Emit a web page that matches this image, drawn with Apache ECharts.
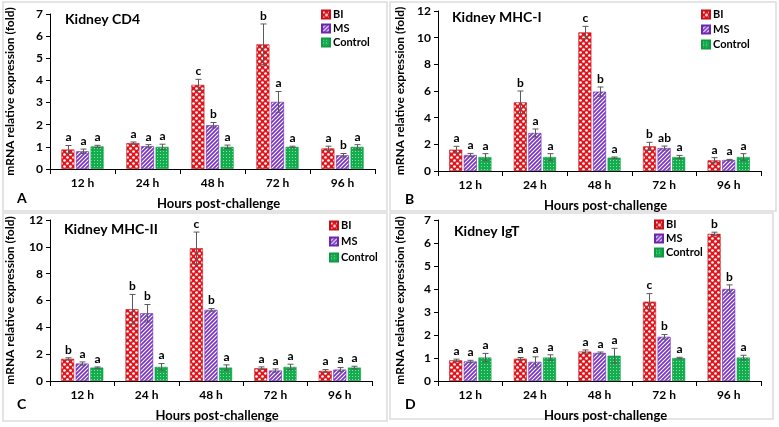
<!DOCTYPE html>
<html><head><meta charset="utf-8">
<script src="https://cdn.jsdelivr.net/npm/echarts@6/dist/echarts.min.js"></script>
<style>html,body{margin:0;padding:0;background:#fff}#c{width:779px;height:427px}</style>
</head><body><div id="c"></div>
<script>
// ---------- data ----------
const categories = ['12 h', '24 h', '48 h', '72 h', '96 h'];
const seriesNames = ['BI', 'MS', 'Control'];

// Panel A: Kidney CD4
const cd4BI = [0.88, 1.17, 3.80, 5.63, 0.93];
const cd4MS = [0.80, 1.03, 1.98, 3.03, 0.62];
const cd4Ctrl = [1.02, 1.00, 1.00, 1.00, 1.00];
const cd4BIErr = [0.18, 0.05, 0.25, 0.92, 0.10];
const cd4MSErr = [0.10, 0.07, 0.12, 0.47, 0.08];
const cd4CtrlErr = [0.05, 0.12, 0.08, 0.03, 0.10];
const cd4BISig = ['a', 'a', 'c', 'b', 'a'];
const cd4MSSig = ['a', 'a', 'b', 'a', 'b'];
const cd4CtrlSig = ['a', 'a', 'a', 'a', 'a'];

// Panel B: Kidney MHC-I
const mhc1BI = [1.60, 5.15, 10.40, 1.85, 0.80];
const mhc1MS = [1.20, 2.85, 5.95, 1.72, 0.82];
const mhc1Ctrl = [1.05, 1.05, 1.00, 1.05, 1.05];
const mhc1BIErr = [0.25, 0.85, 0.45, 0.30, 0.20];
const mhc1MSErr = [0.12, 0.30, 0.35, 0.15, 0.05];
const mhc1CtrlErr = [0.25, 0.25, 0.05, 0.12, 0.25];
const mhc1BISig = ['a', 'b', 'c', 'b', 'a'];
const mhc1MSSig = ['a', 'a', 'b', 'ab', 'a'];
const mhc1CtrlSig = ['a', 'a', 'a', 'a', 'a'];

// Panel C: Kidney MHC-II
const mhc2BI = [1.65, 5.35, 9.90, 0.95, 0.75];
const mhc2MS = [1.30, 5.05, 5.30, 0.78, 0.85];
const mhc2Ctrl = [1.00, 1.05, 1.00, 1.05, 1.00];
const mhc2BIErr = [0.08, 1.10, 1.20, 0.10, 0.10];
const mhc2MSErr = [0.12, 0.65, 0.10, 0.12, 0.15];
const mhc2CtrlErr = [0.05, 0.25, 0.20, 0.20, 0.10];
const mhc2BISig = ['b', 'b', 'c', 'a', 'a'];
const mhc2MSSig = ['a', 'b', 'b', 'a', 'a'];
const mhc2CtrlSig = ['a', 'a', 'a', 'a', 'a'];

// Panel D: Kidney IgT
const igtBI = [0.90, 0.97, 1.28, 3.45, 6.40];
const igtMS = [0.85, 0.83, 1.22, 1.92, 4.00];
const igtCtrl = [1.02, 1.02, 1.10, 1.00, 1.02];
const igtBIErr = [0.05, 0.05, 0.07, 0.35, 0.07];
const igtMSErr = [0.05, 0.22, 0.04, 0.10, 0.18];
const igtCtrlErr = [0.18, 0.12, 0.32, 0.03, 0.10];
const igtBISig = ['a', 'a', 'a', 'c', 'b'];
const igtMSSig = ['a', 'a', 'a', 'b', 'b'];
const igtCtrlSig = ['a', 'a', 'a', 'a', 'a'];

const panelTitles = ['Kidney CD4', 'Kidney MHC-I', 'Kidney MHC-II', 'Kidney IgT'];
const panelLetters = ['A', 'B', 'C', 'D'];
const yMax = [7, 12, 12, 7];
const yInterval = [1, 2, 2, 1];
const yAxisName = 'mRNA relative expression (fold)';
const xAxisName = 'Hours post-challenge';

const panels = [
  {v: [cd4BI, cd4MS, cd4Ctrl], e: [cd4BIErr, cd4MSErr, cd4CtrlErr], s: [cd4BISig, cd4MSSig, cd4CtrlSig]},
  {v: [mhc1BI, mhc1MS, mhc1Ctrl], e: [mhc1BIErr, mhc1MSErr, mhc1CtrlErr], s: [mhc1BISig, mhc1MSSig, mhc1CtrlSig]},
  {v: [mhc2BI, mhc2MS, mhc2Ctrl], e: [mhc2BIErr, mhc2MSErr, mhc2CtrlErr], s: [mhc2BISig, mhc2MSSig, mhc2CtrlSig]},
  {v: [igtBI, igtMS, igtCtrl], e: [igtBIErr, igtMSErr, igtCtrlErr], s: [igtBISig, igtMSSig, igtCtrlSig]}
];

// ---------- patterns ----------
function mkCanvas(w, h, draw) {
  const c = document.createElement('canvas'); c.width = w; c.height = h;
  draw(c.getContext('2d')); return c;
}
const patBI = mkCanvas(6, 6, g => {
  g.fillStyle = '#e2141c'; g.fillRect(0, 0, 6, 6);
  g.fillStyle = '#ffffff';
  [[1.5, 1.5], [4.5, 4.5]].forEach(p => { g.beginPath(); g.arc(p[0], p[1], 1.35, 0, Math.PI * 2); g.fill(); });
});
const patMS = mkCanvas(4, 4, g => {
  g.fillStyle = '#7a34c4'; g.fillRect(0, 0, 4, 4);
  g.strokeStyle = '#ffffff'; g.lineWidth = 1.1;
  g.beginPath(); g.moveTo(-1, 5); g.lineTo(5, -1); g.stroke();
  g.beginPath(); g.moveTo(-1, 1); g.lineTo(1, -1); g.stroke();
  g.beginPath(); g.moveTo(3, 5); g.lineTo(5, 3); g.stroke();
});
const patCtrl = mkCanvas(3, 3, g => {
  g.fillStyle = '#12ad4c'; g.fillRect(0, 0, 3, 3);
  g.fillStyle = 'rgba(255,255,255,0.55)'; g.fillRect(1, 1, 1, 1);
});
const patterns = [patBI, patMS, patCtrl];
const borderCols = ['#c8101a', '#6a28b0', '#0e9a42'];

// ---------- layout ----------
const FONT = 'Lato';
const grids = [
  {left: 50, top: 14, width: 325, height: 155},
  {left: 438, top: 11, width: 323, height: 160},
  {left: 50, top: 220, width: 322, height: 161},
  {left: 438, top: 220, width: 323, height: 161}
];
const legendPos = [{left: 321, top: 9}, {left: 701, top: 9}, {left: 329, top: 220}, {left: 654, top: 219}];
const legendGap = [3, 4, 5, 3];
const titlePos = [{left: 65, top: 12}, {left: 452, top: 10}, {left: 64, top: 222}, {left: 454, top: 224}];
const letterPos = [[22, 199], [410, 200], [22, 405], [410, 405]];
const frames = [[3, 2, 384, 209], [390, 2, 386, 209], [3, 213, 384, 208], [390, 213, 383, 206]];

const BW = 13, GAP = 1.6;

const option = {
  animation: false,
  backgroundColor: '#ffffff',
  textStyle: {fontFamily: FONT},
  grid: grids,
  title: panelTitles.map((t, i) => ({text: t, left: titlePos[i].left, top: titlePos[i].top, padding: 0,
    textStyle: {fontFamily: FONT, fontSize: 14, fontWeight: 'bold', color: '#000'}})),
  legend: grids.map((g, i) => ({
    data: seriesNames, orient: 'vertical', left: legendPos[i].left, top: legendPos[i].top, padding: 0,
    itemWidth: 8, itemHeight: 8, itemGap: legendGap[i], icon: 'rect', selectedMode: false,
    textStyle: {fontFamily: FONT, fontSize: 11, fontWeight: 'bold', color: '#000', padding: [0, 0, 0, -2]}
  })),
  xAxis: grids.map((g, i) => ({
    type: 'category', gridIndex: i, data: categories,
    axisLine: {lineStyle: {color: '#000', width: 1}},
    axisTick: {show: true, length: 5, lineStyle: {color: '#000'}},
    axisLabel: {fontFamily: FONT, fontSize: 12, fontWeight: 'bold', color: '#000', margin: 8},
    name: xAxisName, nameLocation: 'middle', nameGap: 28,
    nameTextStyle: {fontFamily: FONT, fontSize: 13, fontWeight: 'bold', color: '#000', padding: [0, 0, 0, 12]}
  })),
  yAxis: grids.map((g, i) => ({
    type: 'value', gridIndex: i, min: 0, max: yMax[i], interval: yInterval[i],
    splitLine: {show: false},
    axisLine: {show: true, lineStyle: {color: '#000', width: 1}},
    axisTick: {show: true, length: 4, lineStyle: {color: '#000'}},
    axisLabel: {fontFamily: FONT, fontSize: 12, fontWeight: 'bold', color: '#000', margin: 7},
    name: yAxisName, nameLocation: 'middle', nameGap: i % 2 === 0 ? 34 : 32,
    nameTextStyle: {fontFamily: FONT, fontSize: 12, fontWeight: 'bold', color: '#000'}
  })),
  graphic: frames.map(f => ({type: 'rect', shape: {x: f[0], y: f[1], width: f[2], height: f[3]},
      style: {fill: 'none', stroke: '#dcdcdc', lineWidth: 1.5}, silent: true, z: -1}))
    .concat(panelLetters.map((l, i) => ({type: 'text', left: letterPos[i][0] - 5, top: letterPos[i][1] - 8,
      style: {text: l, font: 'bold 14px ' + FONT, fill: '#000'}}))),
  series: []
};

panels.forEach((p, gi) => {
  seriesNames.forEach((name, si) => {
    option.series.push({
      type: 'bar', name: name, xAxisIndex: gi, yAxisIndex: gi, data: p.v[si],
      barWidth: BW, barGap: (GAP / BW * 100).toFixed(1) + '%',
      itemStyle: {color: {image: patterns[si], repeat: 'repeat'}, borderColor: borderCols[si], borderWidth: 0.6}
    });
  });
  const data = [], sig = [];
  seriesNames.forEach((name, si) => {
    p.v[si].forEach((v, ci) => { data.push([ci, si, v, p.e[si][ci]]); sig.push(p.s[si][ci]); });
  });
  option.series.push({
    type: 'custom', xAxisIndex: gi, yAxisIndex: gi, data: data, z: 5,
    encode: {x: 0, y: 2},
    renderItem: function (params, api) {
      const ci = api.value(0), si = api.value(1), v = api.value(2), e = api.value(3);
      const c = api.coord([ci, v]);
      const x = Math.round(c[0] + (si - 1) * (BW + GAP)) + 0.5;
      const top = api.coord([ci, v + e])[1];
      const bot = api.coord([ci, Math.max(0, v - e)])[1];
      const st = {stroke: '#5a5a5a', lineWidth: 1};
      return {type: 'group', children: [
        {type: 'line', shape: {x1: x, y1: top, x2: x, y2: bot}, style: st},
        {type: 'line', shape: {x1: x - 3, y1: top, x2: x + 3, y2: top}, style: st},
        {type: 'line', shape: {x1: x - 3, y1: bot, x2: x + 3, y2: bot}, style: st},
        {type: 'text', x: x, y: top - 2, style: {text: sig[params.dataIndex], font: 'bold 12px ' + FONT,
          fill: '#000', textAlign: 'center', textVerticalAlign: 'bottom'}}
      ]};
    }
  });
});

const chart = echarts.init(document.getElementById('c'), null, {renderer: 'canvas'});
chart.setOption(option);
</script></body></html>
